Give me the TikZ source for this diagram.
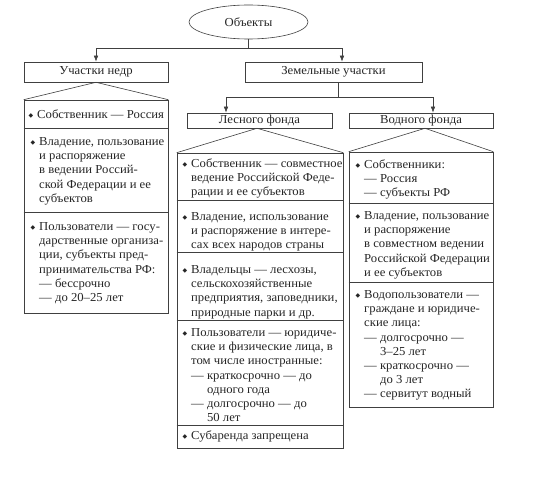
\documentclass[tikz,border=0pt]{standalone}
\usepackage{fontspec}
\setmainfont[FakeStretch=1.04]{Liberation Serif}
\newfontfamily\symfont{DejaVu Sans}
\usetikzlibrary{shapes.geometric,arrows.meta}
\newcommand{\tfont}{\fontsize{12.2}{14.2}\selectfont}
\newcommand{\bul}{\llap{{\symfont\fontsize{6}{6}\selectfont\raisebox{0.8pt}{◆}}\hspace{4pt}}}
\newcommand{\txtrows}[1]{\begin{tabular}[t]{@{}l@{}}#1\end{tabular}}
\newcommand{\ind}{\hphantom{— }}
\begin{document}
\begin{tikzpicture}[x=1pt,y=-1pt,
  line/.style={draw=black!75, line width=0.6pt},
  arr/.style={line, -{Latex[length=6pt,width=4.5pt]}},
  hbox/.style={line, rectangle, inner sep=0pt, font=\tfont, text=black!85},
  cbox/.style={line, rectangle, inner sep=0pt},
  txt/.style={anchor=base west, inner sep=0pt, font=\tfont, text=black!85}]
\useasboundingbox[fill=white] (0,0) rectangle (535,489);

% header boxes
\node[hbox, ellipse, minimum width=119pt, minimum height=34pt] (obj) at (248.5,22) {Объекты};
\node[hbox, minimum width=144pt, minimum height=20pt] (nedra) at (96,72) {Участки недр};
\node[hbox, minimum width=177pt, minimum height=20pt] (zem) at (333.5,72) {Земельные участки};
\node[hbox, minimum width=145pt, minimum height=15pt] (les) at (259.5,120.5) {Лесного фонда};
\node[hbox, minimum width=144pt, minimum height=15pt] (vod) at (421,120.5) {Водного фонда};

% content boxes
\node[cbox, minimum width=144pt, minimum height=213pt] (L) at (96,206.5) {};
\node[cbox, minimum width=166pt, minimum height=295pt] (M) at (260,300.5) {};
\node[cbox, minimum width=144pt, minimum height=255pt] (R) at (421,279.5) {};

% roofs
\draw[line] (L.north west) -- (nedra.south) -- (L.north east);
\draw[line] (M.north west) -- ([xshift=-2.5pt]les.south) -- (M.north east);
\draw[line] (R.north west) -- ([xshift=4pt]vod.south) -- (R.north east);

% connectors
\coordinate (j1) at (248.5,48);
\draw[line] (obj.south) -- (j1);
\draw[arr] (j1) -| (nedra.north);
\draw[arr] (j1) -| ([xshift=8.5pt]zem.north);
\coordinate (j2) at (338,97);
\draw[line] ([xshift=4.5pt]zem.south) -- (j2);
\draw[arr] (j2) -| ([xshift=-33.5pt]les.north);
\draw[arr] (j2) -| ([xshift=12pt]vod.north);

% separators
\foreach \yy in {128,212} \draw[line] (L.west |- 0,\yy) -- (L.east |- 0,\yy);
\foreach \yy in {200,252,320,425} \draw[line] (M.west |- 0,\yy) -- (M.east |- 0,\yy);
\foreach \yy in {203,282} \draw[line] (R.west |- 0,\yy) -- (R.east |- 0,\yy);

% left texts
\node[txt] (l1) at (37,118.5) {\bul Собственник — Россия};
\node[txt] (l2) at (39,145.5) {\txtrows{\bul Владение, пользование\\ и распоряжение\\ в ведении Россий-\\ ской Федерации и ее\\ субъектов}};
\node[txt] (l3) at (39,230.5) {\txtrows{\bul Пользователи — госу-\\ дарственные организа-\\ ции, субъекты пред-\\ принимательства РФ:\\ — бессрочно\\ — до 20–25 лет}};

% middle texts
\node[txt] (m1) at (191,167.5) {\txtrows{\bul Собственник — совместное\\ ведение Российской Феде-\\ рации и ее субъектов}};
\node[txt] (m2) at (191,220.5) {\txtrows{\bul Владение, использование\\ и распоряжение в интере-\\ сах всех народов страны}};
\node[txt] (m3) at (191,273.5) {\txtrows{\bul Владельцы — лесхозы,\\ сельскохозяйственные\\ предприятия, заповедники,\\ природные парки и др.}};
\node[txt] (m4) at (191,336.5) {\txtrows{\bul Пользователи — юридиче-\\ ские и физические лица, в\\ том числе иностранные:\\ — краткосрочно — до\\ \ind одного года\\ — долгосрочно — до\\ \ind 50 лет}};
\node[txt] (m5) at (191,439.5) {\bul Субаренда запрещена};

% right texts
\node[txt] (r1) at (364,168.5) {\txtrows{\bul Собственники:\\ — Россия\\ — субъекты РФ}};
\node[txt] (r2) at (364,219.5) {\txtrows{\bul Владение, пользование\\ и распоряжение\\ в совместном ведении\\ Российской Федерации\\ и ее субъектов}};
\node[txt] (r3) at (364,298.5) {\txtrows{\bul Водопользователи —\\ граждане и юридиче-\\ ские лица:\\ — долгосрочно —\\ \ind 3–25 лет\\ — краткосрочно —\\ \ind до 3 лет\\ — сервитут водный}};
\end{tikzpicture}
\end{document}
